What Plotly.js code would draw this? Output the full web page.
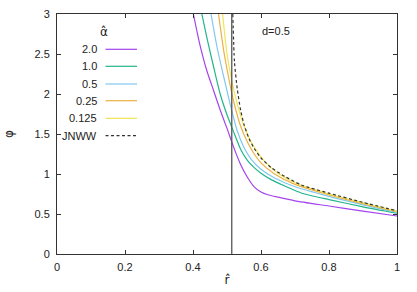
<!DOCTYPE html>
<html>
<head>
<meta charset="utf-8">
<script src="https://cdn.plot.ly/plotly-3.0.1.min.js"></script>
<style>html,body{margin:0;padding:0;background:#fff;}#chart{width:417px;height:292px;}</style>
</head>
<body>
<div id="chart"></div>
<script>
// ---- data ----
const seriesNames = ["2.0", "1.0", "0.5", "0.25", "0.125", "JNWW"];
const legendTitle = "α̂";
const noteText = "d=0.5";
const rCritical = 0.514;

const r_a20 = [0.401, 0.42, 0.44, 0.46, 0.48, 0.50, 0.52, 0.54, 0.56, 0.58, 0.60, 0.62, 0.65, 0.70, 0.80, 0.90, 1.00];
const phi_a20 = [3.0, 2.62, 2.30, 2.05, 1.80, 1.57, 1.33, 1.12, 0.96, 0.84, 0.775, 0.74, 0.71, 0.665, 0.60, 0.535, 0.475];

const r_a10 = [0.426, 0.44, 0.46, 0.48, 0.50, 0.52, 0.54, 0.56, 0.58, 0.60, 0.63, 0.67, 0.72, 0.80, 0.90, 1.00];
const phi_a10 = [3.0, 2.72, 2.35, 2.00, 1.74, 1.52, 1.31, 1.17, 1.08, 1.01, 0.93, 0.85, 0.76, 0.68, 0.59, 0.51];

const r_a05 = [0.453, 0.47, 0.49, 0.51, 0.53, 0.55, 0.57, 0.60, 0.64, 0.70, 0.80, 0.90, 1.00];
const phi_a05 = [3.0, 2.6, 2.22, 1.86, 1.54, 1.33, 1.19, 1.06, 0.95, 0.84, 0.72, 0.615, 0.52];

const r_a025 = [0.475, 0.49, 0.505, 0.52, 0.54, 0.56, 0.58, 0.60, 0.64, 0.70, 0.80, 0.90, 1.00];
const phi_a025 = [3.0, 2.55, 2.2, 1.9, 1.6, 1.4, 1.25, 1.14, 1.0, 0.87, 0.74, 0.63, 0.53];

const r_a0125 = [0.487, 0.50, 0.515, 0.53, 0.55, 0.57, 0.59, 0.61, 0.65, 0.70, 0.80, 0.90, 1.00];
const phi_a0125 = [3.0, 2.5, 2.15, 1.88, 1.6, 1.41, 1.27, 1.16, 1.01, 0.89, 0.75, 0.64, 0.535];

const r_jnww = [0.517, 0.522, 0.53, 0.54, 0.55, 0.565, 0.58, 0.60, 0.63, 0.67, 0.72, 0.80, 0.90, 1.00];
const phi_jnww = [3.0, 2.4, 2.07, 1.8, 1.62, 1.44, 1.32, 1.2, 1.08, 0.97, 0.86, 0.76, 0.645, 0.54];

const xTickVals = [0, 0.2, 0.4, 0.6, 0.8, 1];
const xTickText = ["0", "0.2", "0.4", "0.6", "0.8", "1"];
const yTickVals = [0, 0.5, 1, 1.5, 2, 2.5, 3];
const yTickText = ["0", "0.5", "1", "1.5", "2", "2.5", "3"];

// ---- styling ----
const colors = ["#a444ee", "#22b58a", "#80c8f0", "#ebb045", "#f2e455", "#333333"];
const dashes = ["solid", "solid", "solid", "solid", "solid", "3px,2.5px"];
const xs = [r_a20, r_a10, r_a05, r_a025, r_a0125, r_jnww];
const ys = [phi_a20, phi_a10, phi_a05, phi_a025, phi_a0125, phi_jnww];

const traces = xs.map((x, i) => ({
  x: x, y: ys[i], type: "scatter", mode: "lines", name: seriesNames[i],
  line: {color: colors[i], width: 1.2, dash: dashes[i], shape: "spline", smoothing: 0.6},
  showlegend: false, hoverinfo: "skip"
}));

// custom gnuplot-style key: label right-aligned, sample line to its right
const font = {family: "Liberation Sans, Arial, sans-serif", size: 11, color: "#222"};
const mathFont = {family: "DejaVu Sans, sans-serif", size: 12, color: "#222"};
const W = 340, H = 240;
const rowPx = [49.3, 66.3, 84, 100.7, 118.3, 135.7];
const annotations = [];
const shapes = [];
annotations.push({xref: "paper", yref: "paper", x: (104 - 57) / W, y: (254 - 32) / H,
  text: legendTitle, showarrow: false, xanchor: "center", yanchor: "middle", font: mathFont});
seriesNames.forEach((nm, i) => {
  const yp = (254 - rowPx[i]) / H;
  annotations.push({xref: "paper", yref: "paper", x: (99 - 57) / W, y: yp, text: nm, showarrow: false,
    xanchor: "right", yanchor: "middle", font: font});
  shapes.push({type: "line", xref: "paper", yref: "paper", x0: (105.5 - 57) / W, x1: (137 - 57) / W, y0: yp, y1: yp,
    line: {color: colors[i], width: 1.2, dash: dashes[i] === "solid" ? "solid" : "3px,2.5px"}});
});
annotations.push({xref: "paper", yref: "paper", x: (260 - 57) / W, y: (254 - 30.7) / H, text: noteText,
  showarrow: false, xanchor: "left", yanchor: "middle", font: font});
shapes.push({type: "line", xref: "x", yref: "y", x0: rCritical, x1: rCritical, y0: 0, y1: 3,
  line: {color: "#555", width: 1.3}});

const axisCommon = {
  showgrid: false, zeroline: false, showline: true, linecolor: "#333", linewidth: 1,
  mirror: "ticks", ticks: "inside", ticklen: 4, tickwidth: 1, tickcolor: "#333",
  tickfont: font
};

const layout = {
  width: 417, height: 292,
  margin: {l: 57, r: 20, t: 14, b: 38},
  paper_bgcolor: "#fff", plot_bgcolor: "#fff",
  showlegend: false,
  xaxis: Object.assign({}, axisCommon, {range: [0, 1], tickvals: xTickVals, ticktext: xTickText,
    ticklabelstandoff: 3, title: {text: "r̂", font: mathFont, standoff: 3}}),
  yaxis: Object.assign({}, axisCommon, {range: [0, 3], tickvals: yTickVals, ticktext: yTickText,
    ticklabelstandoff: 4, title: {text: "φ", font: mathFont, standoff: 18}}),
  annotations: annotations,
  shapes: shapes
};

Plotly.newPlot("chart", traces, layout, {staticPlot: true, displayModeBar: false});
</script>
</body>
</html>
